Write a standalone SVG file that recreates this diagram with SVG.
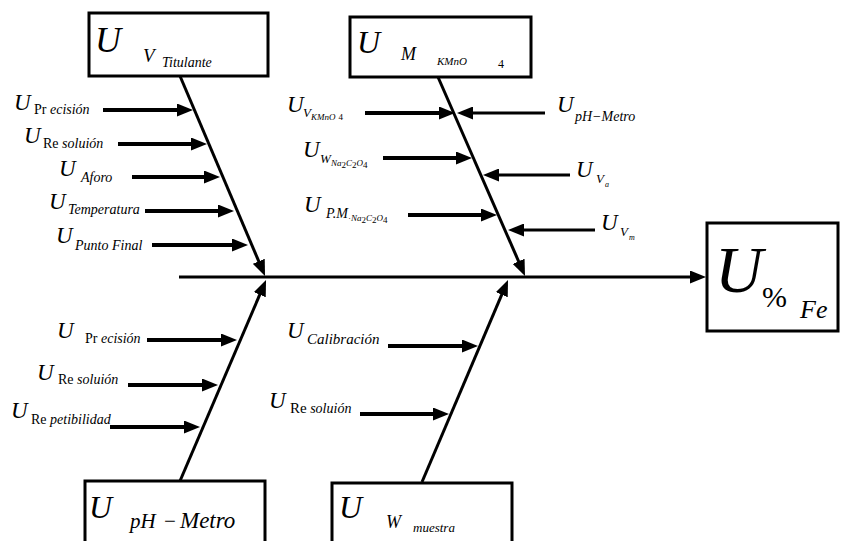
<svg xmlns="http://www.w3.org/2000/svg" width="841" height="541" viewBox="0 0 841 541" font-family="'Liberation Serif','Times New Roman','DejaVu Serif',serif">
<defs>
<marker id="ah" markerUnits="userSpaceOnUse" markerWidth="16" markerHeight="13" viewBox="0 0 16 13" refX="6" refY="6.5" orient="auto"><path d="M0,0 L16,6.5 L0,13 z" fill="#000"/></marker>
</defs>
<style>
.box{fill:#fff;stroke:#000;stroke-width:3}
.bone{stroke:#000;stroke-width:3;fill:none}
.arr{stroke:#000;stroke-width:4;fill:none}
.arr3{stroke:#000;stroke-width:3;fill:none}
text{font-family:'Liberation Serif','Times New Roman','DejaVu Serif',serif;fill:#000}
.u{font-size:23px;font-style:italic}
.s{font-size:14px;font-style:italic}
.r{font-style:normal}
.t{font-size:9px;font-style:italic}
</style>
<rect width="841" height="541" fill="#fff"/>
<g id="connectors">
<line class="bone" x1="179" y1="277" x2="696" y2="277" marker-end="url(#ah)"/>
<line class="bone" x1="180" y1="76" x2="261.1" y2="266.8" marker-end="url(#ah)"/>
<line class="bone" x1="438" y1="77" x2="521" y2="266.8" marker-end="url(#ah)"/>
<line class="bone" x1="180" y1="481" x2="262.1" y2="289.2" marker-end="url(#ah)"/>
<line class="bone" x1="422" y1="482" x2="504.1" y2="289.2" marker-end="url(#ah)"/>
<line class="arr" x1="103" y1="110" x2="183" y2="110" marker-end="url(#ah)"/>
<line class="arr" x1="118" y1="144" x2="197" y2="144" marker-end="url(#ah)"/>
<line class="arr" x1="132" y1="177" x2="210" y2="177" marker-end="url(#ah)"/>
<line class="arr" x1="145" y1="211" x2="224" y2="211" marker-end="url(#ah)"/>
<line class="arr" x1="152" y1="245" x2="238" y2="245" marker-end="url(#ah)"/>
<line class="arr" x1="365" y1="113" x2="445" y2="113" marker-end="url(#ah)"/>
<line class="arr" x1="383" y1="158" x2="462" y2="158" marker-end="url(#ah)"/>
<line class="arr" x1="408" y1="215" x2="487" y2="215" marker-end="url(#ah)"/>
<line class="arr3" x1="545" y1="113" x2="467" y2="113" marker-end="url(#ah)"/>
<line class="arr3" x1="570" y1="175" x2="493" y2="175" marker-end="url(#ah)"/>
<line class="arr3" x1="595" y1="230" x2="518" y2="230" marker-end="url(#ah)"/>
<line class="arr" x1="147" y1="340" x2="227" y2="340" marker-end="url(#ah)"/>
<line class="arr" x1="128" y1="385" x2="208" y2="385" marker-end="url(#ah)"/>
<line class="arr" x1="110" y1="427" x2="190" y2="427" marker-end="url(#ah)"/>
<line class="arr" x1="388" y1="346" x2="468" y2="346" marker-end="url(#ah)"/>
<line class="arr" x1="360" y1="414" x2="439" y2="414" marker-end="url(#ah)"/>
</g>
<g id="node-vtitulante">
<rect class="box" x="89" y="13" width="179" height="63"/>
<text x="95" y="52" style="font-size:36px;font-style:italic">U</text>
<text x="143" y="62" style="font-size:19px;font-style:italic">V</text>
<text x="162" y="67" class="s">Titulante</text>
</g>
<g id="node-mkmno4">
<rect class="box" x="350" y="17" width="181" height="60"/>
<text x="357" y="53" style="font-size:32px;font-style:italic">U</text>
<text x="401" y="60" style="font-size:18px;font-style:italic">M</text>
<text x="437" y="65" style="font-size:11px;font-style:italic">KMnO</text>
<text x="498" y="68" style="font-size:12px">4</text>
</g>
<g id="node-phmetro">
<rect class="box" x="85" y="481" width="180" height="64"/>
<text x="89" y="518" style="font-size:32px;font-style:italic">U</text>
<text x="130" y="528" style="font-size:21px;font-style:italic">pH</text>
<text x="164" y="528" style="font-size:21px">−</text>
<text x="180" y="528" style="font-size:23px;font-style:italic">Metro</text>
</g>
<g id="node-wmuestra">
<rect class="box" x="332" y="483" width="180" height="62"/>
<text x="339" y="518" style="font-size:32px;font-style:italic">U</text>
<text x="386" y="528" style="font-size:18px;font-style:italic">W</text>
<text x="413" y="532" style="font-size:13px;font-style:italic">muestra</text>
</g>
<g id="node-fe">
<rect class="box" x="707" y="223" width="131" height="108"/>
<text x="715" y="292" style="font-size:66px;font-style:italic">U</text>
<text x="762" y="307" style="font-size:30px">%</text>
<text x="800" y="318" style="font-size:26px;font-style:italic">Fe</text>
</g>
<g id="labels">
<text x="14" y="110" class="u">U</text>
<text x="34" y="114" class="s"><tspan class="r">Pr</tspan> ecisión</text>
<text x="24" y="143" class="u">U</text>
<text x="43" y="148" class="s"><tspan class="r">Re</tspan> soluión</text>
<text x="59" y="176" class="u">U</text>
<text x="81" y="182" class="s">Aforo</text>
<text x="49" y="209" class="u">U</text>
<text x="68" y="214" class="s">Temperatura</text>
<text x="56" y="243" class="u">U</text>
<text x="75" y="250" class="s">Punto Final</text>

<text x="287" y="112" class="u">U</text>
<text x="303" y="117" style="font-size:13px;font-style:italic">V</text>
<text x="311" y="120" class="t">KMnO<tspan class="r" dx="3">4</tspan></text>
<text x="557" y="112" class="u">U</text>
<text x="575" y="121" class="s">pH−Metro</text>
<text x="303" y="157" class="u">U</text>
<text x="320" y="163" style="font-size:13px;font-style:italic">W</text>
<text x="331" y="166" class="t">Na<tspan class="r" dy="2">2</tspan><tspan dy="-2">C</tspan><tspan class="r" dy="2">2</tspan><tspan dy="-2">O</tspan><tspan class="r" dy="2">4</tspan></text>
<text x="576" y="177" class="u">U</text>
<text x="596" y="183" style="font-size:13px;font-style:italic">V</text>
<text x="605" y="187" style="font-size:8px;font-style:italic">a</text>
<text x="304" y="212" class="u">U</text>
<text x="326" y="218" class="s">P.M</text>
<text x="348" y="221" class="t"><tspan class="r">·</tspan>Na<tspan class="r" dy="2">2</tspan><tspan dy="-2">C</tspan><tspan class="r" dy="2">2</tspan><tspan dy="-2">O</tspan><tspan class="r" dy="2">4</tspan></text>
<text x="601" y="230" class="u">U</text>
<text x="620" y="236" style="font-size:13px;font-style:italic">V</text>
<text x="629" y="240" style="font-size:8px;font-style:italic">m</text>

<text x="57" y="338" class="u">U</text>
<text x="85" y="343" class="s"><tspan class="r">Pr</tspan> ecisión</text>
<text x="37" y="380" class="u">U</text>
<text x="58" y="384" class="s"><tspan class="r">Re</tspan> soluión</text>
<text x="11" y="418" class="u">U</text>
<text x="31" y="424" class="s"><tspan class="r">Re</tspan> petibilidad</text>

<text x="287" y="338" class="u">U</text>
<text x="307" y="344" style="font-size:15px;font-style:italic">Calibración</text>
<text x="269" y="408" class="u">U</text>
<text x="290" y="413" class="s"><tspan class="r" style="font-size:15px">Re</tspan> soluión</text>
</g>
</svg>
